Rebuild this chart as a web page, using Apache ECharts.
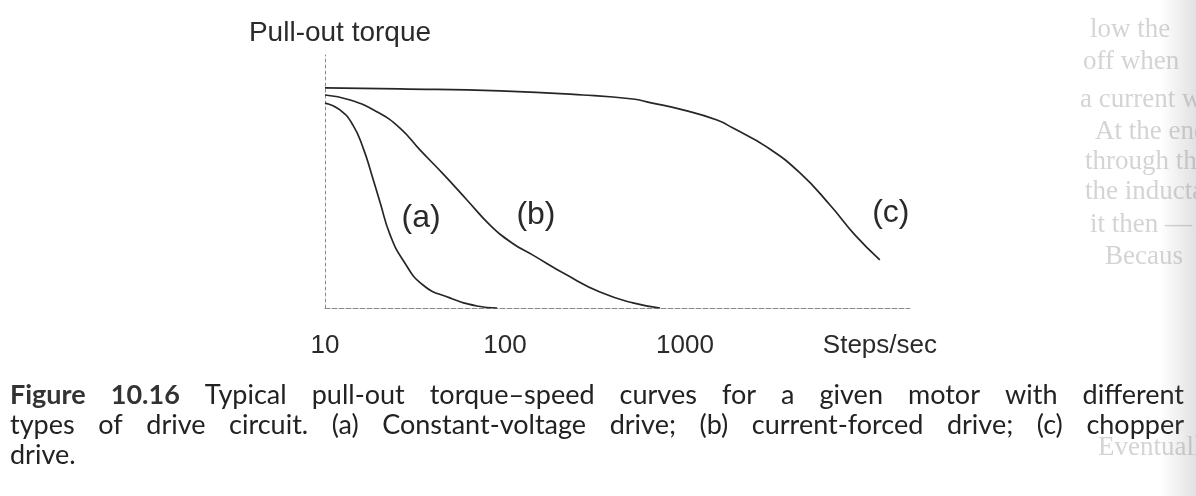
<!DOCTYPE html>
<html>
<head>
<meta charset="utf-8">
<style>
  html, body { margin: 0; padding: 0; background: #ffffff; }
  #chart { width: 1196px; height: 496px; }
</style>
<script src="https://cdn.jsdelivr.net/npm/echarts@6.0.0/dist/echarts.min.js"></script>
</head>
<body>
<div id="chart"></div>
<script>
// ---- Data ----
const xTickLabels = ['10', '100', '1000', 'Steps/sec'];
const xTickValues = [10, 100, 1000, 10000];

// (a) constant-voltage drive
const freqA   = [10, 12.1, 14.3, 16.3, 18.2, 20.2, 23.0, 27.1, 35.0, 49.4, 69.8, 90.3];
const torqueA = [81.0, 78.3, 72.3, 63.2, 52.6, 41.9, 28.9, 19.0, 9.1, 4.0, 0.8, 0];

// (b) current-forced drive
const freqB   = [10, 13.8, 19.5, 26.1, 33.7, 45.3, 61.5, 82.6, 109.4, 143, 221, 337, 514, 727];
const torqueB = [84.2, 82.2, 77.5, 71.1, 62.5, 53.0, 42.7, 32.8, 25.7, 20.9, 13.0, 6.3, 2.0, 0];

// (c) chopper drive
const freqC   = [10, 26, 94, 271, 514, 640, 975, 1507, 1849, 2858, 4355, 6397, 8790, 12100];
const torqueC = [87.0, 86.6, 85.8, 84.2, 82.6, 81.2, 78.3, 74.3, 71.1, 63.6, 53.4, 40.7, 28.9, 19.0];

// curve labels and their anchor (data space)
const curveLabels = ['(a)', '(b)', '(c)'];
const labelFreq   = [34.2, 148.6, 13930];
const labelTorque = [35.6, 36.8, 37.5];

const yAxisName = 'Pull-out torque';

const captionLines = [
  [{t: 'Figure', b: true}, {t: '10.16', b: true}, 'Typical', 'pull-out', 'torque–speed', 'curves', 'for', 'a', 'given', 'motor', 'with', 'different'],
  ['types', 'of', 'drive', 'circuit.', '(a)', 'Constant-voltage', 'drive;', '(b)', 'current-forced', 'drive;', '(c)', 'chopper'],
  ['drive.']
];

const bleedLines = ['low the', 'off when', 'a current w', 'At the end', 'through th', 'the inductan', 'it then —', 'Becaus', 'Eventually'];

// ---- Build ----
const pairs = (xs, ys) => xs.map((x, i) => [x, ys[i]]);
const TXT = '#2a2a2a';
const LINE = '#262626';

function lineSeries(name, data, idx) {
  return {
    name, type: 'line', data, smooth: 0.5,
    showSymbol: false, symbol: 'none', silent: true,
    lineStyle: { color: LINE, width: 1.7 },
    markPoint: {
      symbol: 'circle', symbolSize: 0, silent: true,
      data: [{
        coord: [labelFreq[idx], labelTorque[idx]],
        label: { show: true, formatter: curveLabels[idx], position: 'inside',
                 color: TXT, fontSize: 32, fontFamily: 'Liberation Sans' }
      }]
    }
  };
}

const chart = echarts.init(document.getElementById('chart'), null, { renderer: 'canvas' });

// caption justification
const measureCtx = document.createElement('canvas').getContext('2d');
const CAP_SIZE = 27;
const capFont = (b) => (b ? 'bold ' : '') + CAP_SIZE + 'px Lato';
const capLeft = 10, capRight = 1184;
const capMid = [395, 425, 455];
const graphics = [];

captionLines.forEach((words, li) => {
  const items = words.map(w => typeof w === 'string' ? {t: w, b: false} : w);
  const widths = items.map(it => { measureCtx.font = capFont(it.b); return measureCtx.measureText(it.t).width; });
  const total = widths.reduce((a, b) => a + b, 0);
  const justify = li < captionLines.length - 1;
  const gap = justify ? (capRight - capLeft - total) / (items.length - 1) : CAP_SIZE * 0.27;
  let x = capLeft;
  items.forEach((it, i) => {
    graphics.push({
      type: 'text', x: x, y: capMid[li], silent: true,
      style: { text: it.t, font: capFont(it.b), fill: it.b ? '#333333' : '#222222',
               verticalAlign: 'middle', align: 'left' }
    });
    x += widths[i] + gap;
  });
});

// faint page bleed on the right edge
const bleedY = [30, 62, 100, 132, 162, 192, 225, 257, 448];
const bleedX = [1090, 1083, 1080, 1095, 1085, 1085, 1090, 1105, 1098];
bleedLines.forEach((t, i) => {
  graphics.push({
    type: 'text', x: bleedX[i], y: bleedY[i], silent: true, z: -1,
    style: { text: t, font: '27px "Liberation Serif"', fill: '#d4d4d4', verticalAlign: 'middle', align: 'left' }
  });
});
graphics.push({
  type: 'rect', silent: true, z: 10,
  shape: { x: 1160, y: 0, width: 36, height: 496 },
  style: { fill: new echarts.graphic.LinearGradient(0, 0, 1, 0, [
    { offset: 0, color: 'rgba(120,120,120,0)' },
    { offset: 1, color: 'rgba(120,120,120,0.22)' }
  ]) }
});

const option = {
  backgroundColor: '#ffffff',
  animation: false,
  grid: { left: 325, right: 286, top: 55, bottom: 188, containLabel: false },
  xAxis: {
    type: 'log', logBase: 10, min: 10, max: 17800,
    splitLine: { show: false },
    axisTick: { show: false },
    axisLine: { show: true, lineStyle: { color: '#8a8a8a', width: 1, type: [5, 2] } },
    axisLabel: {
      show: true, margin: 25, color: TXT, fontSize: 26, fontFamily: 'Liberation Sans',
      showMinLabel: true, showMaxLabel: true,
      formatter: function (v) {
        const k = xTickValues.findIndex(t => Math.abs(Math.log10(v) - Math.log10(t)) < 1e-6);
        if (k < 0) return '';
        return k === 3 ? '{s|' + xTickLabels[k] + '}' : xTickLabels[k];
      },
      rich: { s: { fontSize: 26, color: TXT, fontFamily: 'Liberation Sans', padding: [0, 0, 0, 30] } }
    }
  },
  yAxis: {
    type: 'value', min: 0, max: 100,
    name: yAxisName, nameLocation: 'end', nameGap: 8,
    nameTextStyle: { color: TXT, fontSize: 28, fontFamily: 'Liberation Sans', padding: [0, 0, 0, 30] },
    splitLine: { show: false }, axisTick: { show: false }, axisLabel: { show: false },
    axisLine: { show: true, lineStyle: { color: '#8a8a8a', width: 1, type: [3, 3] } }
  },
  series: [
    lineSeries('(a)', pairs(freqA, torqueA), 0),
    lineSeries('(b)', pairs(freqB, torqueB), 1),
    lineSeries('(c)', pairs(freqC, torqueC), 2)
  ],
  graphic: graphics
};
chart.setOption(option);
</script>
</body>
</html>
